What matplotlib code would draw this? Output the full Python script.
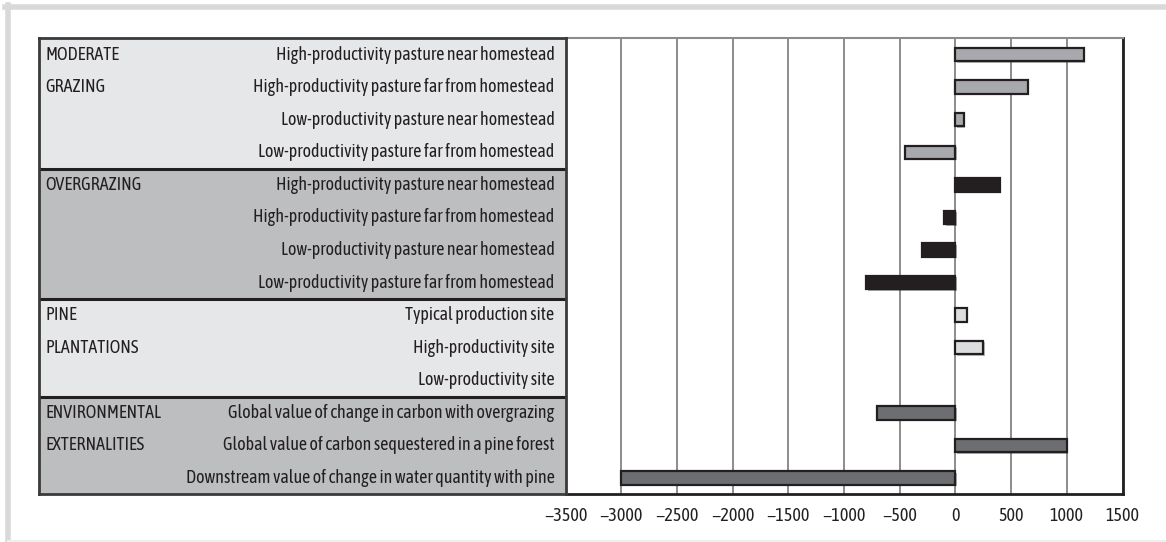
import matplotlib.pyplot as plt
import matplotlib.patheffects as pe
from matplotlib.lines import Line2D
import numpy as np

plt.rcParams['font.family'] = ['Asap Condensed', 'DejaVu Sans']

# groups and rows (top to bottom)
groups = ["MODERATE\nGRAZING", "OVERGRAZING", "PINE\nPLANTATIONS",
          "ENVIRONMENTAL\nEXTERNALITIES"]
group_sizes = [4, 4, 3, 3]
labels = [
    "High-productivity pasture near homestead",
    "High-productivity pasture far from homestead",
    "Low-productivity pasture near homestead",
    "Low-productivity pasture far from homestead",
    "High-productivity pasture near homestead",
    "High-productivity pasture far from homestead",
    "Low-productivity pasture near homestead",
    "Low-productivity pasture far from homestead",
    "Typical production site",
    "High-productivity site",
    "Low-productivity site",
    "Global value of change in carbon with overgrazing",
    "Global value of carbon sequestered in a pine forest",
    "Downstream value of change in water quantity with pine",
]
values = [1150, 650, 75, -450,
          400, -100, -300, -800,
          100, 250, 0,
          -700, 1000, -3000]

bar_colors = ["#a7a9ac", "#231f20", "#dcddde", "#6d6e71"]
panel_colors = ["#e6e7e8", "#bcbec0", "#e6e7e8", "#bcbec0"]
dark = "#231f20"
fs = 13

W, H = 1166, 542
fig = plt.figure(figsize=(W / 100, H / 100), dpi=100)

# pixel box helper -> figure fraction
def box(x0, y0, x1, y1):
    return [x0 / W, 1 - y1 / H, (x1 - x0) / W, (y1 - y0) / H]

ax = fig.add_axes(box(565.5, 38.3, 1122.5, 494.3))
tab = fig.add_axes(box(39.3, 38.3, 565.5, 494.3))

n = len(labels)
y = np.arange(n)
grp_idx = np.repeat(np.arange(len(groups)), group_sizes)

# bars
colors = [bar_colors[g] for g in grp_idx]
bars = ax.barh(y, values, height=0.41, color=colors, edgecolor=dark,
               linewidth=1.6, zorder=3)
for b, v in zip(bars, values):
    if v == 0:
        b.set_visible(False)
    b.set_path_effects([pe.SimplePatchShadow(offset=(1, -1), alpha=0.35),
                        pe.Normal()])

ax.set_xlim(-3500, 1500)
ax.set_ylim(n - 0.5, -0.5)
ax.set_xticks(np.arange(-3500, 1501, 500))
ax.set_yticks([])
ax.tick_params(axis='x', length=0, pad=9, labelsize=fs, labelcolor=dark)
ax.grid(axis='x', color="#8c8c8c", linewidth=1.4, zorder=0)
ax.set_axisbelow(True)
ax.spines['left'].set_visible(False)
ax.spines['top'].set_color("#8c8c8c")
ax.spines['top'].set_linewidth(1.5)
for s in ['right', 'bottom']:
    ax.spines[s].set_color(dark)
    ax.spines[s].set_linewidth(2)

# table on the left
tab.set_xlim(0, 1)
tab.set_ylim(n - 0.5, -0.5)
tab.set_xticks([])
tab.set_yticks([])
for s in tab.spines.values():
    s.set_color("#3a3a3a")
    s.set_linewidth(2)

start = 0
for g, size in enumerate(group_sizes):
    tab.axhspan(start - 0.5, start + size - 0.5, color=panel_colors[g], zorder=0)
    if start > 0:
        tab.axhline(start - 0.5, color=dark, linewidth=2.2, zorder=2)
    for k, line in enumerate(groups[g].split("\n")):
        tab.text(0.011, start + k, line, ha='left', va='center',
                 fontsize=fs, color=dark)
    start += size

for i, lab in enumerate(labels):
    tab.text(0.979, i, lab, ha='right', va='center', fontsize=fs, color=dark)

# light outer frame
frame = dict(color="#d9d9d9", linewidth=4, transform=fig.transFigure)
fig.add_artist(Line2D([5 / W, 1], [1 - 7 / H, 1 - 7 / H], **frame))
fig.add_artist(Line2D([7.5 / W, 7.5 / W], [0, 1 - 5 / H], **frame))
fig.add_artist(Line2D([7.5 / W, 1], [1.5 / H, 1.5 / H], color="#efefef",
                      linewidth=1.5, transform=fig.transFigure))

fig.savefig("out.png", dpi=100)
